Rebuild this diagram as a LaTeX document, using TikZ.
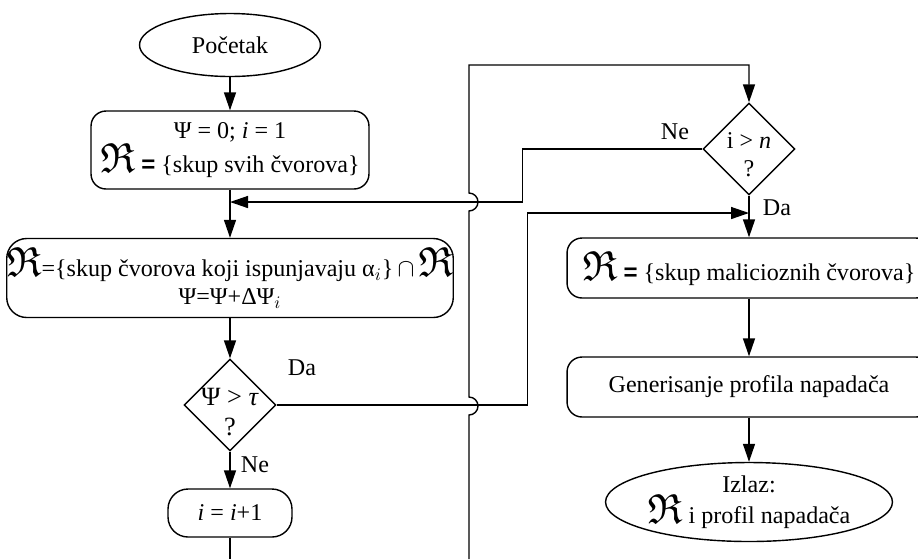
\documentclass[tikz,border=0pt]{standalone}
\usepackage{fontspec}
\setmainfont{Liberation Serif}
\setsansfont{Liberation Sans}
\usepackage{amssymb}
\usepackage{graphicx}
\usepackage{tikz}
\usetikzlibrary{shapes.geometric,arrows.meta}
\newcommand{\frakR}{\scalebox{1.75}{$\mathfrak{R}$}}

\begin{document}
\begin{tikzpicture}[x=0.02cm, y=-0.02cm, line width=0.8pt,
  font=\fontsize{13.7}{16}\selectfont,
  arr/.style={-{Triangle[length=0.36cm,width=0.24cm]}},
  term/.style={draw, ellipse, inner sep=0pt, align=center},
  proc/.style={draw, rounded corners=0.3cm, inner sep=0pt, align=center},
  decision/.style={draw, diamond, inner sep=0pt, minimum width=1.84cm, minimum height=1.84cm}]
  \clip (0,0) rectangle (918,559);
  % Left column
  \node[term, minimum width=3.62cm, minimum height=1.26cm] (start) at (230,45) {Početak};
  \node[proc, minimum width=5.56cm, minimum height=1.56cm] (init) at (230,150)
    {Ψ = 0; \textit{i} = 1\\ \frakR{} {\sffamily\bfseries =} \{skup svih čvorova\}};
  \node[proc, rounded corners=0.4cm, minimum width=8.92cm, minimum height=1.58cm] (filter) at (230,278)
    {\frakR{}=\{skup čvorova koji ispunjavaju α$_i$\}$\,\cap$\,\frakR\\ Ψ=Ψ+ΔΨ$_i$};
  \node[decision] (chk1) at (230,405) {};
  \node[align=center, font=\fontsize{15}{17.5}\selectfont] (chk1txt) at ([yshift=-0.14cm]chk1) {Ψ > \textit{τ}\\?};
  \node[proc, rounded corners=0.4cm, minimum width=2.48cm, minimum height=0.96cm] (inc) at (230,513)
    {\textit{i} = \textit{i}+1};
  % Right column
  \node[decision] (chk2) at (749,149) {};
  \node[align=center] (chk2txt) at ([yshift=-0.12cm]chk2) {i > \textit{n}\\?};
  \node[proc, minimum width=7.28cm, minimum height=1.2cm] (mal) at (749,268)
    {\frakR{} {\sffamily\bfseries =} \{skup malicioznih čvorova\}};
  \node[proc, minimum width=7.28cm, minimum height=1.2cm] (gen) at (749,387)
    {Generisanje profila napadača};
  \node[term, minimum width=5.74cm, minimum height=1.58cm] (out) at (749,502)
    {Izlaz:\\ \frakR{} i profil napadača};
  % Branch labels
  \node (da1) at (302,368) {Da};
  \node (ne1) at (255,465) {Ne};
  \node (ne2) at (675,132) {Ne};
  \node (da2) at (777,208) {Da};
  % Connectors
  \coordinate (join1) at (230,202);
  \coordinate (join2) at (749,213);
  \coordinate (incbot) at (230,559);
  \coordinate (loopbot) at (469,559);
  \foreach \a/\b in {start/init, init/filter, filter/chk1, chk1/inc, chk2/mal, mal/gen, gen/out}
    \draw[arr] (\a.south) -- (\b.north);
  \draw[arr] (chk2.west) -- ++(-180,0) |- (join1);
  \draw[arr] (chk1.east) -- ++(251,0) |- (join2);
  \draw (inc.south) -- (incbot);
  \draw[arr] (loopbot) -- (469,415) arc[start angle=-90, end angle=90, radius=0.18cm]
    -- (469,211) arc[start angle=-90, end angle=90, radius=0.18cm]
    -- (469,65) -| (chk2.north);
\end{tikzpicture}
\end{document}
